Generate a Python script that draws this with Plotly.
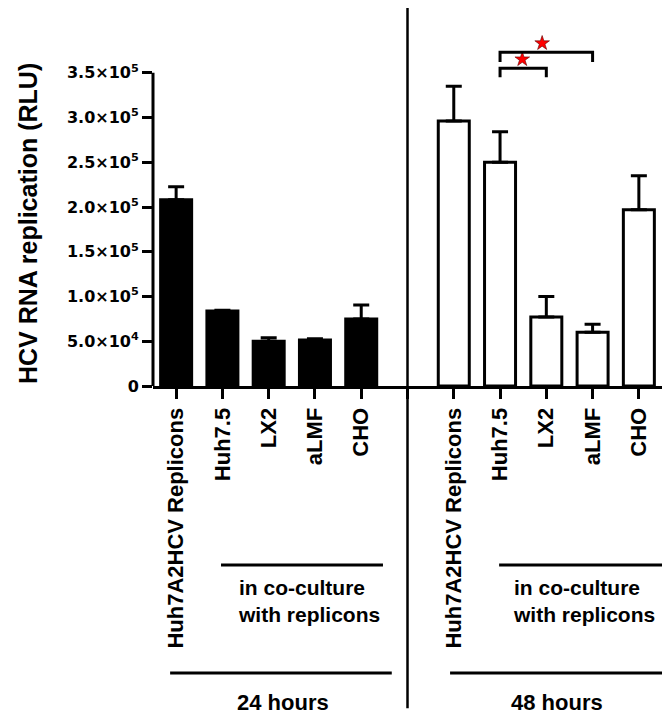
import plotly.graph_objects as go

# ---- data ----
labels_24h = ["Huh7A2HCV Replicons", "Huh7.5", "LX2", "aLMF", "CHO"]
labels_48h = ["Huh7A2HCV Replicons", "Huh7.5", "LX2", "aLMF", "CHO"]
x_24h = [0, 1, 2, 3, 4]
x_48h = [6, 7, 8, 9, 10]
values_24h = [2.08e5, 8.37e4, 5.0e4, 5.15e4, 7.5e4]
errors_24h = [1.45e4, 1.0e3, 4.0e3, 1.2e3, 1.55e4]
values_48h = [2.96e5, 2.50e5, 7.7e4, 6.0e4, 1.97e5]
errors_48h = [3.9e4, 3.4e4, 2.3e4, 9.0e3, 3.8e4]

ytick_vals = [0, 5e4, 1e5, 1.5e5, 2e5, 2.5e5, 3e5, 3.5e5]
ytick_text = ["0", "5.0×10<sup>4</sup>", "1.0×10<sup>5</sup>", "1.5×10<sup>5</sup>",
              "2.0×10<sup>5</sup>", "2.5×10<sup>5</sup>", "3.0×10<sup>5</sup>",
              "3.5×10<sup>5</sup>"]

# significance brackets: (x_start, x_end, y_bar, y_leg)
brackets = [(7, 8, 3.55e5, 3.45e5), (7, 9, 3.73e5, 3.62e5)]
star_x = [7.48, 7.91]
star_y = [3.65e5, 3.83e5]

FONT = "Liberation Sans, Arial, sans-serif"

fig = go.Figure()
fig.add_trace(go.Bar(
    x=x_24h, y=values_24h, width=0.67,
    marker=dict(color="black", line=dict(color="black", width=3)),
    error_y=dict(type="data", symmetric=False, array=errors_24h,
                 arrayminus=[0] * len(errors_24h), thickness=3, width=8, color="black"),
    showlegend=False))
fig.add_trace(go.Bar(
    x=x_48h, y=values_48h, width=0.67,
    marker=dict(color="white", line=dict(color="black", width=3)),
    error_y=dict(type="data", symmetric=False, array=errors_48h,
                 arrayminus=[0] * len(errors_48h), thickness=3, width=8, color="black"),
    showlegend=False))
fig.add_trace(go.Scatter(
    x=star_x, y=star_y, mode="markers",
    marker=dict(symbol="star", size=11, color="red", line=dict(color="#600000", width=0.6)),
    showlegend=False, cliponaxis=False))

shapes = []
# y axis line (only up to the top tick)
shapes.append(dict(type="line", xref="paper", yref="y", x0=0, x1=0, y0=0, y1=3.5e5,
                   line=dict(color="black", width=3)))
# divider line between 24h and 48h
shapes.append(dict(type="line", xref="x", yref="paper", x0=5, x1=5, y0=-0.9, y1=1.056,
                   line=dict(color="black", width=2.5)))
# brackets
for (xs, xe, yb, yl) in brackets:
    shapes.append(dict(type="path", xref="x", yref="y",
                       path=f"M {xs},{yl} L {xs},{yb} L {xe},{yb} L {xe},{yl}",
                       line=dict(color="black", width=3)))
# group lines
group_lines = [(-0.13, 4.66, -0.802), (5.92, 10.6, -0.802),
               (0.97, 4.47, -0.5), (6.98, 10.6, -0.5)]
for (a, b, yy) in group_lines:
    shapes.append(dict(type="line", xref="x", yref="paper", x0=a, x1=b, y0=yy, y1=yy,
                       line=dict(color="black", width=3)))

annotations = [
    dict(text="<b>HCV RNA replication (RLU)</b>", textangle=-90, xref="paper", yref="paper",
         x=-0.2456, y=0.455, xanchor="center", yanchor="middle", showarrow=False,
         font=dict(family=FONT, size=25, color="black")),
    dict(text="<b>24 hours</b>", xref="x", yref="paper", x=2.31, y=-0.885,
         xanchor="center", yanchor="middle", showarrow=False,
         font=dict(family=FONT, size=22, color="black")),
    dict(text="<b>48 hours</b>", xref="x", yref="paper", x=8.23, y=-0.885,
         xanchor="center", yanchor="middle", showarrow=False,
         font=dict(family=FONT, size=22, color="black")),
    dict(text="<b>in co-culture<br>with replicons</b>", xref="x", yref="paper", x=1.29, y=-0.6,
         xanchor="left", yanchor="middle", align="left", showarrow=False,
         font=dict(family=FONT, size=21, color="black")),
    dict(text="<b>in co-culture<br>with replicons</b>", xref="x", yref="paper", x=7.24, y=-0.6,
         xanchor="left", yanchor="middle", align="left", showarrow=False,
         font=dict(family=FONT, size=21, color="black")),
]

fig.update_layout(
    width=664, height=717, autosize=False,
    margin=dict(l=153, r=2, t=28, b=331, pad=0),
    paper_bgcolor="white", plot_bgcolor="white",
    barmode="overlay",
    shapes=shapes, annotations=annotations,
    xaxis=dict(range=[-0.5, 10.5], tickmode="array",
               tickvals=x_24h + [5] + x_48h,
               ticktext=labels_24h + [""] + labels_48h,
               tickangle=-90, ticks="outside", ticklen=10, tickwidth=3, tickcolor="black",
               showline=True, linewidth=3, linecolor="black",
               showgrid=False, zeroline=False,
               tickfont=dict(family=FONT, size=22, color="black", weight="bold")),
    yaxis=dict(range=[0, 4.0e5], tickmode="array", tickvals=ytick_vals, ticktext=ytick_text,
               ticks="outside", ticklen=10, tickwidth=3, tickcolor="black",
               showline=False, showgrid=False, zeroline=False,
               tickfont=dict(family="DejaVu Sans, sans-serif", size=16, color="black",
                             weight="bold")),
)

fig.write_html("out.html")
